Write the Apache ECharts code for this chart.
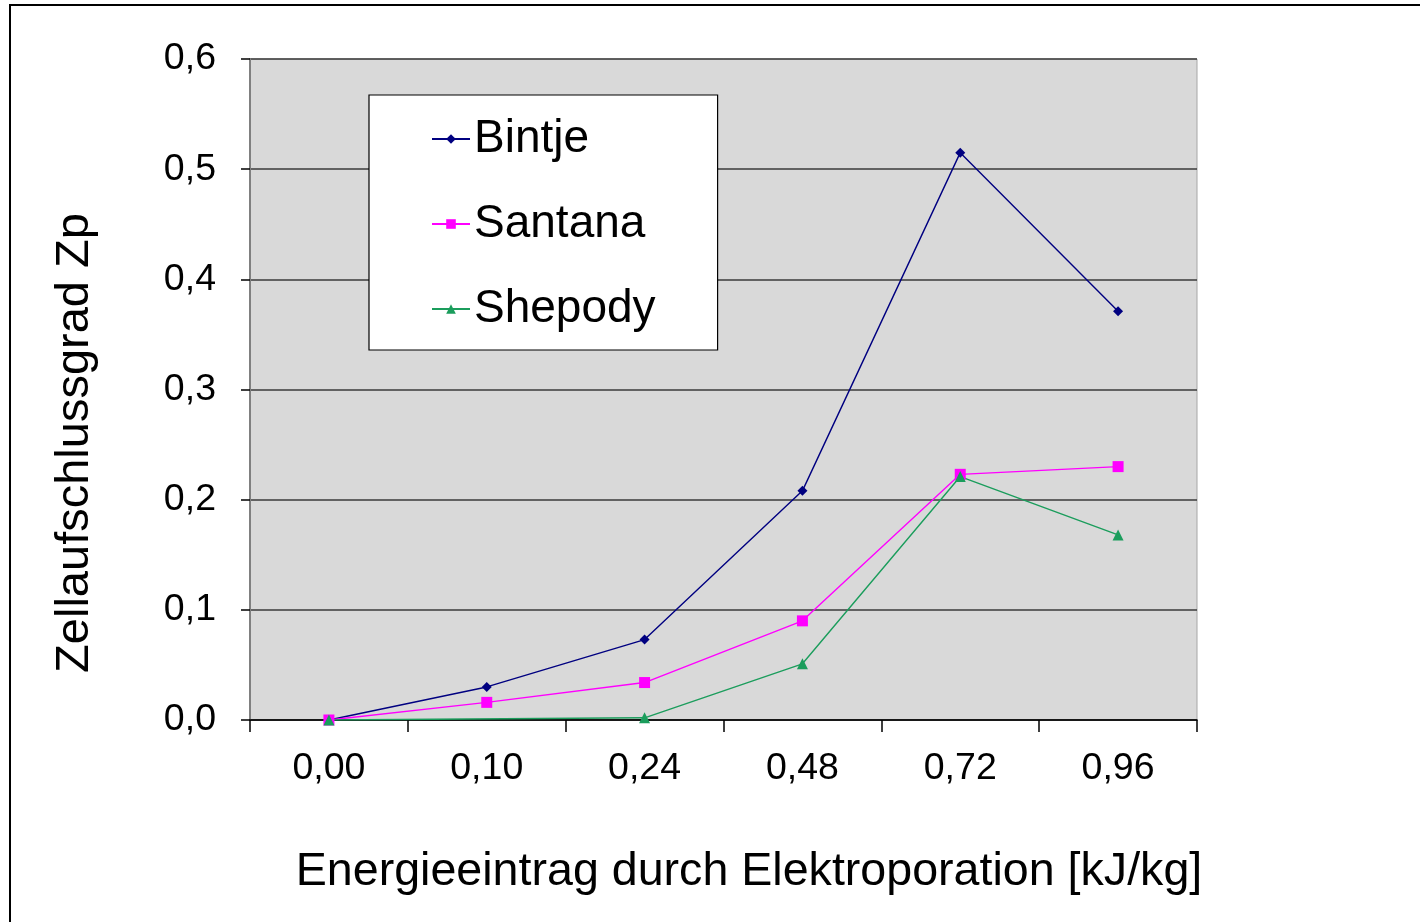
<!DOCTYPE html>
<html>
<head>
<meta charset="utf-8">
<script src="https://cdn.jsdelivr.net/npm/echarts@6/dist/echarts.min.js"></script>
<style>
  html, body { margin: 0; padding: 0; background: #fff; }
  #chart { width: 1420px; height: 922px; }
</style>
</head>
<body>
<div id="chart"></div>
<script>
// Energy input categories (kJ/kg)
const categories = ['0,00', '0,10', '0,24', '0,48', '0,72', '0,96'];

// Cell disintegration index Zp per potato variety
const bintje  = [0, 0.030, 0.073, 0.208, 0.515, 0.371];
const santana = [0, 0.016, 0.034, 0.090, 0.223, 0.230];
const shepody = [0, null, 0.002, 0.051, 0.221, 0.168];

const yTicks = { min: 0, max: 0.6, interval: 0.1 };

const FONT = '"Liberation Sans", Arial, sans-serif';

const chart = echarts.init(document.getElementById('chart'), null, { renderer: 'canvas' });

function lineSeries(name, data, color, symbol, size) {
  return {
    name: name,
    type: 'line',
    data: data,
    connectNulls: true,
    symbol: symbol,
    symbolSize: size,
    showAllSymbol: true,
    lineStyle: { color: color, width: 1.4 },
    itemStyle: { color: color, borderWidth: 0 },
    emphasis: { disabled: true },
    z: 3
  };
}

chart.setOption({
  animation: false,
  backgroundColor: '#ffffff',
  textStyle: { fontFamily: FONT },
  grid: {
    left: 250, right: 223, top: 59, bottom: 202,
    show: true,
    backgroundColor: '#d9d9d9',
    borderColor: '#a6a6a6',
    borderWidth: 1
  },
  legend: {
    orient: 'vertical',
    left: 369, top: 95,
    padding: [19, 62, 16, 62],
    backgroundColor: '#ffffff',
    borderColor: '#000000',
    borderWidth: 1.2,
    itemWidth: 38,
    itemHeight: 12,
    itemGap: 35,
    selectedMode: false,
    textStyle: { fontFamily: FONT, fontSize: 46, color: '#000', lineHeight: 50, padding: [0, 0, 0, -1] },
    data: ['Bintje', 'Santana', 'Shepody']
  },
  xAxis: {
    type: 'category',
    data: categories,
    boundaryGap: true,
    axisLine: { lineStyle: { color: '#000', width: 1.5 } },
    axisTick: { show: true, inside: false, length: 12, alignWithLabel: false, lineStyle: { color: '#000', width: 1.5 } },
    axisLabel: { fontFamily: FONT, fontSize: 37.5, color: '#000', margin: 30 },
    splitLine: { show: false }
  },
  yAxis: {
    type: 'value',
    min: yTicks.min, max: yTicks.max, interval: yTicks.interval,
    axisLine: { show: true, lineStyle: { color: '#808080', width: 2 } },
    axisTick: { show: true, length: 9, lineStyle: { color: '#000', width: 1.5 } },
    axisLabel: {
      fontFamily: FONT, fontSize: 37.5, color: '#000', margin: 34,
      formatter: v => v.toFixed(1).replace('.', ',')
    },
    splitLine: { show: true, lineStyle: { color: '#3a3a3a', width: 1.5 } }
  },
  series: [
    lineSeries('Bintje', bintje, '#000080', 'diamond', 10),
    lineSeries('Santana', santana, '#ff00ff', 'rect', 11),
    lineSeries('Shepody', shepody, '#1b9d5c', 'triangle', 11)
  ],
  graphic: [
    {
      type: 'rect',
      silent: true,
      shape: { x: 10, y: 5, width: 1500, height: 1000 },
      style: { fill: 'none', stroke: '#000', lineWidth: 2 },
      z: 100
    },
    {
      type: 'text',
      silent: true,
      x: 75, y: 443,
      rotation: Math.PI / 2,
      style: {
        text: 'Zellaufschlussgrad Zp',
        fontFamily: FONT, fontSize: 47, fill: '#000',
        textAlign: 'center', textVerticalAlign: 'middle'
      }
    },
    {
      type: 'text',
      silent: true,
      x: 749, y: 872,
      style: {
        text: 'Energieeintrag durch Elektroporation [kJ/kg]',
        fontFamily: FONT, fontSize: 46.6, fill: '#000',
        textAlign: 'center', textVerticalAlign: 'middle'
      }
    }
  ]
});
</script>
</body>
</html>
